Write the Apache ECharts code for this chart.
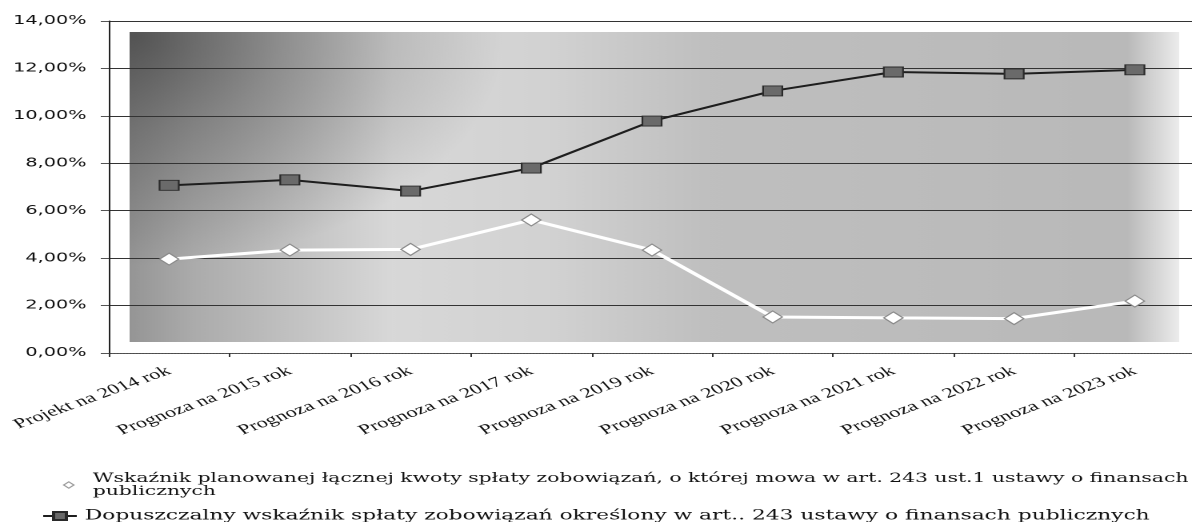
<!DOCTYPE html>
<html>
<head>
<meta charset="utf-8">
<script src="https://cdn.jsdelivr.net/npm/echarts@6/dist/echarts.min.js"></script>
<style>
html,body{margin:0;padding:0;background:#fff;overflow:hidden;width:1192px;height:522px;}
#c{width:750px;height:522px;transform:scaleX(1.6);transform-origin:0 0;}
</style>
</head>
<body>
<div id="c"></div>
<script>
const categories = ['Projekt na 2014 rok','Prognoza na 2015 rok','Prognoza na 2016 rok','Prognoza na 2017 rok','Prognoza na 2019 rok','Prognoza na 2020 rok','Prognoza na 2021 rok','Prognoza na 2022 rok','Prognoza na 2023 rok'];
const planowany = [3.96, 4.34, 4.37, 5.61, 4.34, 1.52, 1.48, 1.45, 2.19];
const dopuszczalny = [7.07, 7.30, 6.83, 7.80, 9.78, 11.05, 11.85, 11.77, 11.94];
const yTickLabels = ['0,00%','2,00%','4,00%','6,00%','8,00%','10,00%','12,00%','14,00%'];
const name1 = 'Wskaźnik planowanej łącznej kwoty spłaty zobowiązań, o której mowa w art. 243 ust.1 ustawy o finansach publicznych';
const name2 = 'Dopuszczalny wskaźnik spłaty zobowiązań określony w art.. 243 ustawy o finansach publicznych';
const SERIF = 'Liberation Serif';
const LEGEND_FONT = 'DejaVu Serif';

const chart = echarts.init(document.getElementById('c'), null, {renderer:'canvas', devicePixelRatio:2});
const option = {
  animation:false,
  backgroundColor:'#fff',
  graphic:{elements:[
    {type:'rect', z:-10, silent:true, shape:{x:81,y:32,width:656,height:310},
     style:{fill:{type:'linear',x:0,y:0,x2:1,y2:0,colorStops:[
       {offset:0,color:'#959595'},{offset:0.06,color:'#ababab'},{offset:0.25,color:'#d8d8d8'},
       {offset:0.4,color:'#d2d2d2'},{offset:0.55,color:'#bfbfbf'},{offset:0.95,color:'#b9b9b9'},{offset:1,color:'#ececec'}]}}},
    {type:'rect', z:-9, silent:true, shape:{x:81,y:32,width:656,height:310},
     style:{fill:{type:'radial',x:85,y:36,r:230,global:true,colorStops:[
       {offset:0,color:'rgba(30,30,30,0.55)'},{offset:0.4,color:'rgba(30,30,30,0.3)'},{offset:1,color:'rgba(30,30,30,0)'}]}}}
  ]},
  grid:{left:68, right:3, top:21, bottom:169, containLabel:false},
  xAxis:{type:'category', data:categories, boundaryGap:true,
    axisLine:{show:true, lineStyle:{color:'#555', type:'dotted', width:1}},
    axisTick:{show:true, length:4, lineStyle:{color:'#333'}},
    axisLabel:{rotate:30, margin:17, fontFamily:SERIF, fontSize:14, color:'#111', interval:0}
  },
  yAxis:{type:'value', min:0, max:14, interval:2,
    axisLine:{show:true, lineStyle:{color:'#222', width:1}},
    axisTick:{show:true, length:5, lineStyle:{color:'#555'}},
    axisLabel:{margin:14, fontFamily:'DejaVu Sans', fontSize:12, color:'#111', formatter:(v,i)=>yTickLabels[i]},
    splitLine:{show:true, lineStyle:{color:'#333', width:1}}
  },
  legend:[
    {data:[{name:name1, itemStyle:{color:'#ffffff', borderColor:'#999', borderWidth:1}}], left:27, top:467, orient:'vertical', itemWidth:20, itemHeight:8,
     textStyle:{fontFamily:LEGEND_FONT, fontSize:12.7, color:'#111', lineHeight:13},
     formatter:n=>n.replace(' publicznych','\npublicznych')},
    {data:[name2], left:21, top:504, orient:'vertical', itemWidth:21, itemHeight:10,
     textStyle:{fontFamily:LEGEND_FONT, fontSize:13.6, color:'#111', lineHeight:13}}
  ],
  series:[
    {name:name1, type:'line', data:planowany, symbol:'diamond', symbolSize:12, z:3,
     lineStyle:{color:'#ffffff', width:3},
     itemStyle:{color:'#ffffff', borderColor:'#8a8a8a', borderWidth:1}},
    {name:name2, type:'line', data:dopuszczalny, symbol:'rect', symbolSize:[12,10], z:4,
     lineStyle:{color:'#1e1e1e', width:2},
     itemStyle:{color:'#6a6a6a', borderColor:'#2a2a2a', borderWidth:1}}
  ]
};
chart.setOption(option);
</script>
</body>
</html>
